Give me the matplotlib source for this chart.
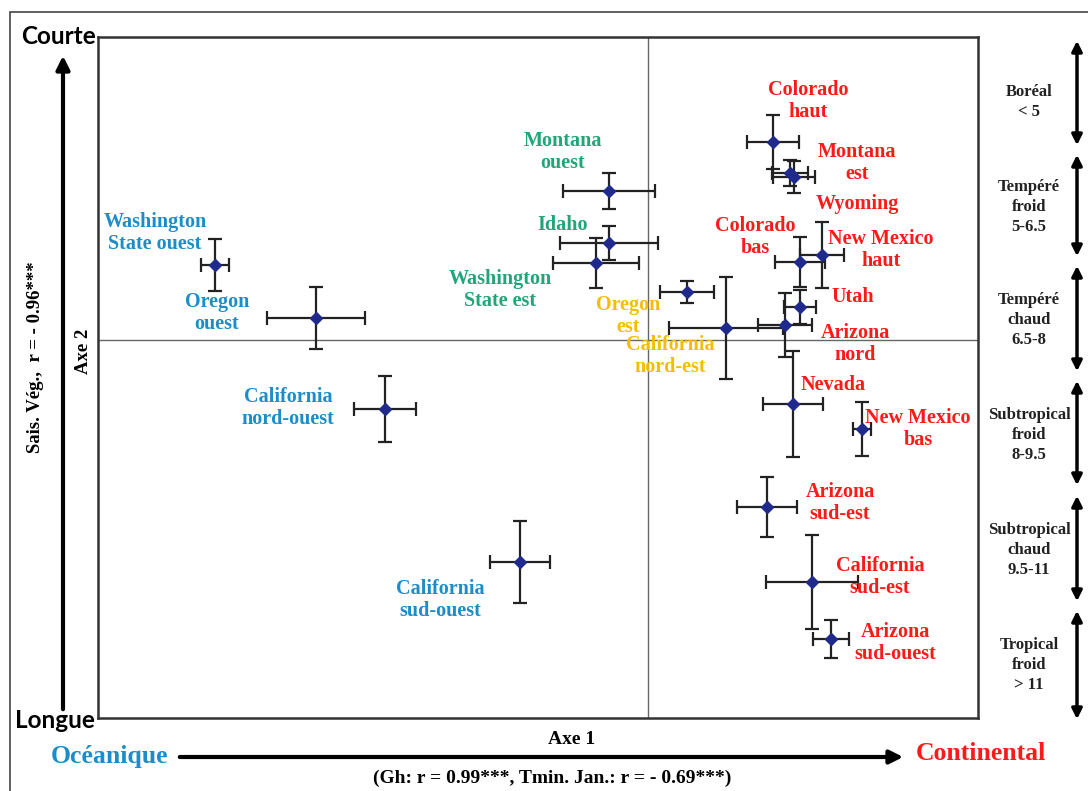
import matplotlib
matplotlib.use('Agg')
import matplotlib.pyplot as plt
from matplotlib.patches import Rectangle, FancyArrowPatch

## données : scores ACP (Axe 1, Axe 2) avec écarts
regions = ['Washington State ouest', 'Oregon ouest', 'California nord-ouest', 'California sud-ouest',
           'Montana ouest', 'Idaho', 'Washington State est',
           'Oregon est', 'California nord-est',
           'Colorado haut', 'Montana est', 'Wyoming', 'Colorado bas', 'New Mexico haut', 'Utah',
           'Arizona nord', 'Nevada', 'New Mexico bas', 'Arizona sud-est', 'California sud-est',
           'Arizona sud-ouest']
labels = ['Washington\nState ouest', 'Oregon\nouest', 'California\nnord-ouest', 'California\nsud-ouest',
          'Montana\nouest', 'Idaho', 'Washington\nState est',
          'Oregon\nest', 'California\nnord-est',
          'Colorado\nhaut', 'Montana\nest', 'Wyoming', 'Colorado\nbas', 'New Mexico\nhaut', 'Utah',
          'Arizona\nnord', 'Nevada', 'New Mexico\nbas', 'Arizona\nsud-est', 'California\nsud-est',
          'Arizona\nsud-ouest']
groups = ['oce'] * 4 + ['inter'] * 3 + ['trans'] * 2 + ['cont'] * 12
axe1 = [-4.33, -3.32, -2.63, -1.28, -0.39, -0.39, -0.52, 0.39, 0.78,
        1.25, 1.42, 1.46, 1.52, 1.74, 1.52, 1.37, 1.45, 2.14, 1.19, 1.64, 1.83]
axe2 = [0.75, 0.22, -0.69, -2.22, 1.49, 0.97, 0.77, 0.48, 0.12,
        1.98, 1.67, 1.63, 0.78, 0.85, 0.33, 0.15, -0.64, -0.89, -1.67, -2.42, -2.99]
err1 = [0.14, 0.49, 0.31, 0.30, 0.46, 0.49, 0.43, 0.27, 0.57,
        0.26, 0.18, 0.21, 0.25, 0.22, 0.16, 0.27, 0.30, 0.09, 0.30, 0.46, 0.18]
err2 = [0.26, 0.31, 0.33, 0.41, 0.18, 0.17, 0.25, 0.11, 0.51,
        0.27, 0.13, 0.16, 0.25, 0.33, 0.17, 0.32, 0.53, 0.27, 0.30, 0.47, 0.19]

## position des étiquettes (décalage en unités d'axe)
lab_dx = [-0.60, -0.99, -0.97, -0.80, -0.46, -0.46, -0.96, -0.59, -0.56,
          0.35, 0.67, 0.63, -0.45, 0.59, 0.53, 0.70, 0.40, 0.56, 0.73, 0.68, 0.64]
lab_dy = [0.32, 0.05, 0.01, -0.38, 0.39, 0.18, -0.27, -0.24, -0.28,
          0.41, 0.10, -0.27, 0.25, 0.05, 0.10, -0.19, 0.19, 0.00, 0.04, 0.05, -0.04]

## zones climatiques (à droite)
zones = ['Boréal\n< 5', 'Tempéré\nfroid\n5-6.5', 'Tempéré\nchaud\n6.5-8',
         'Subtropical\nfroid\n8-9.5', 'Subtropical\nchaud\n9.5-11', 'Tropical\nfroid\n> 11']

colors = {'oce': '#1c8dc9', 'inter': '#22a577', 'trans': '#f4be00', 'cont': '#ff1a1a'}
SERIF = 'Liberation Serif'

W, H = 1088, 791
fig = plt.figure(figsize=(W / 100, H / 100), dpi=100)


def fx(x):
    return x / W


def fy(y):
    return 1 - y / H


ax = fig.add_axes([fx(98), fy(718), fx(978) - fx(98), fy(37) - fy(718)])
ax.set_xlim(-5.5, 3.3)
ax.set_ylim(-3.78, 3.03)
ax.set_xticks([])
ax.set_yticks([])
for s in ax.spines.values():
    s.set_linewidth(1.8)
    s.set_color('#333333')
ax.axvline(0, color='#666666', lw=1.0)
ax.axhline(0, color='#666666', lw=1.0)

ax.errorbar(axe1, axe2, xerr=err1, yerr=err2, fmt='D', color='#1f2a8c', ms=6,
            ecolor='#222222', elinewidth=1.6, capsize=5, capthick=1.6, zorder=3)

for i in range(len(regions)):
    ax.text(axe1[i] + lab_dx[i], axe2[i] + lab_dy[i], labels[i], ha='center', va='center',
            color=colors[groups[i]], family=SERIF, weight='bold', fontsize=14.5,
            linespacing=1.15, zorder=4)

## cadre extérieur
fig.patches.append(Rectangle((fx(10), fy(795)), fx(1090) - fx(10), fy(12) - fy(795),
                             transform=fig.transFigure, fill=False, ec='#444444', lw=1.2))

## axe vertical : saison de végétation
fig.text(fx(59), fy(37), 'Courte', family='Lato', weight='bold', fontsize=17.5, ha='center', va='center')
fig.text(fx(55), fy(721), 'Longue', family='Lato', weight='bold', fontsize=17.5, ha='center', va='center')
fig.patches.append(FancyArrowPatch((fx(63), fy(712)), (fx(63), fy(53)), transform=fig.transFigure,
                                   arrowstyle='-|>,head_length=8,head_width=4', lw=3, color='black'))
fig.text(fx(36), fy(357), 'Sais. Vég.,  r = - 0.96***', family=SERIF, weight='bold', fontsize=13.5,
         rotation=90, ha='center', va='center')
fig.text(fx(83), fy(351), 'Axe 2', family=SERIF, weight='bold', fontsize=13.5,
         rotation=90, ha='center', va='center')

## axe horizontal
fig.text(fx(572), fy(740), 'Axe 1', family=SERIF, weight='bold', fontsize=14, ha='center', va='center')
fig.text(fx(110), fy(756), 'Océanique', family=SERIF, weight='bold', fontsize=18.5,
         color='#1c8dc9', ha='center', va='center')
fig.text(fx(981), fy(754), 'Continental', family=SERIF, weight='bold', fontsize=18.5,
         color='#ff1a1a', ha='center', va='center')
fig.patches.append(FancyArrowPatch((fx(177), fy(757)), (fx(906), fy(757)), transform=fig.transFigure,
                                   arrowstyle='-|>,head_length=8,head_width=4', lw=3, color='black'))
fig.text(fx(552), fy(778), '(Gh: r = 0.99***, Tmin. Jan.: r = - 0.69***)', family=SERIF,
         weight='bold', fontsize=14, ha='center', va='center')

## zones climatiques
zone_top = [38, 152, 263, 378, 493, 608]
zone_bot = [148, 259, 374, 488, 604, 722]
zone_txt_y = [102, 207, 320, 435, 550, 665]
for i in range(len(zones)):
    fig.patches.append(FancyArrowPatch((fx(1077), fy(zone_bot[i])), (fx(1077), fy(zone_top[i])),
                                       transform=fig.transFigure,
                                       arrowstyle='<|-|>,head_length=6,head_width=3', lw=2.5, color='black'))
    fig.text(fx(1029), fy(zone_txt_y[i]), zones[i], family=SERIF, weight='bold',
             fontsize=12, linespacing=1.35, ha='center', va='center', color='#222222')

fig.savefig('out.png', dpi=100)
